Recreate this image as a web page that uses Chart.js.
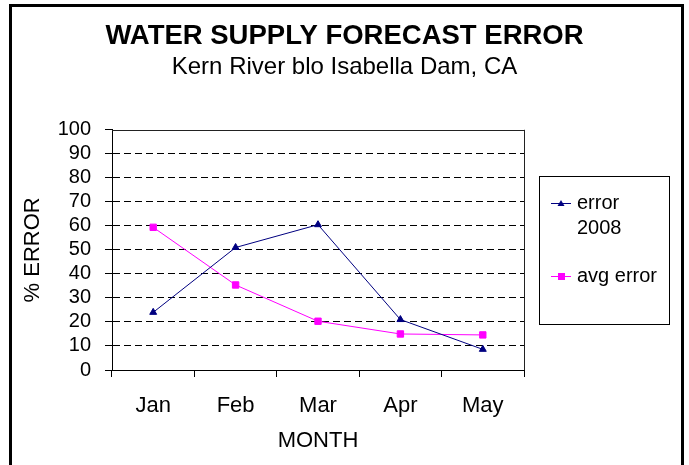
<!DOCTYPE html>
<html>
<head>
<meta charset="utf-8">
<script src="https://cdn.jsdelivr.net/npm/chart.js@4.4.1/dist/chart.umd.min.js"></script>
<style>
html,body{margin:0;padding:0;background:#fff;}
#wrap{width:689px;height:465px;position:relative;}
</style>
</head>
<body>
<div id="wrap"><canvas id="c" width="689" height="465"></canvas></div>
<script>
const months = ["Jan", "Feb", "Mar", "Apr", "May"];
const error2008 = [24, 51, 60.5, 21, 8.6];
const avgError = [59.4, 35.4, 20.3, 15, 14.6];
const yTicks = [0, 10, 20, 30, 40, 50, 60, 70, 80, 90, 100];
const seriesNames = ["error 2008", "avg error"];
const titleText = "WATER SUPPLY FORECAST ERROR";
const subtitleText = "Kern River blo Isabella Dam, CA";

const FONT = "'Liberation Sans', Arial, Helvetica, sans-serif";

const frame = {
  id: 'frame',
  beforeDraw(chart) {
    const ctx = chart.ctx;
    ctx.save();
    ctx.fillStyle = '#fff';
    ctx.fillRect(0, 0, chart.width, chart.height);
    ctx.restore();
  },
  afterDraw(chart) {
    const ctx = chart.ctx;
    const a = chart.chartArea;
    ctx.save();
    // plot area frame (top + right)
    ctx.strokeStyle = '#222';
    ctx.lineWidth = 1;
    ctx.beginPath();
    ctx.moveTo(a.left, Math.round(a.top) + 0.5);
    ctx.lineTo(a.right, Math.round(a.top) + 0.5);
    ctx.moveTo(Math.round(a.right) + 0.5, a.top);
    ctx.lineTo(Math.round(a.right) + 0.5, a.bottom);
    ctx.stroke();
    // outer chart border
    ctx.lineWidth = 3;
    ctx.strokeStyle = '#000';
    ctx.strokeRect(10.5, 5.5, 672, 480);
    // legend
    const lx = 539.5, ly = 176.5, lw = 130, lh = 148;
    ctx.lineWidth = 1;
    ctx.strokeRect(lx, ly, lw, lh);
    ctx.font = '20px ' + FONT;
    ctx.textBaseline = 'middle';
    ctx.textAlign = 'left';
    const entryY = [203, 276];
    chart.data.datasets.forEach((ds, i) => {
      const y = entryY[i];
      ctx.strokeStyle = ds.borderColor;
      ctx.lineWidth = 1;
      ctx.beginPath();
      ctx.moveTo(551, y + 0.5);
      ctx.lineTo(571, y + 0.5);
      ctx.stroke();
      ctx.fillStyle = ds.pointBackgroundColor;
      if (ds.pointStyle === 'triangle') {
        ctx.beginPath();
        ctx.moveTo(561, y - 3);
        ctx.lineTo(564.5, y + 3);
        ctx.lineTo(557.5, y + 3);
        ctx.closePath();
        ctx.fill();
      } else {
        ctx.fillRect(558, y - 3, 7, 7);
      }
      ctx.fillStyle = '#000';
      const words = ds.label.split(' ');
      const lines = [];
      let cur = '';
      words.forEach(w => {
        const t = cur ? cur + ' ' + w : w;
        if (ctx.measureText(t).width > 86 && cur) { lines.push(cur); cur = w; } else cur = t;
      });
      lines.push(cur);
      lines.forEach((ln, k) => ctx.fillText(ln, 577, y + k * 25));
    });
    ctx.restore();
  }
};

new Chart(document.getElementById('c'), {
  type: 'line',
  data: {
    labels: months,
    datasets: [
      {
        label: seriesNames[0],
        data: error2008,
        borderColor: '#000080',
        backgroundColor: '#000080',
        pointBackgroundColor: '#000080',
        pointBorderColor: '#000080',
        pointStyle: 'triangle',
        pointRadius: 4,
        borderWidth: 1,
        tension: 0
      },
      {
        label: seriesNames[1],
        data: avgError,
        borderColor: '#FF00FF',
        backgroundColor: '#FF00FF',
        pointBackgroundColor: '#FF00FF',
        pointBorderColor: '#FF00FF',
        pointStyle: 'rect',
        pointRadius: 4.5,
        borderWidth: 1,
        tension: 0
      }
    ]
  },
  options: {
    responsive: false,
    animation: false,
    devicePixelRatio: 1,
    layout: { padding: { left: 0, right: 0, top: 0, bottom: 0 } },
    plugins: {
      legend: { display: false },
      tooltip: { enabled: false },
      title: {
        display: true,
        text: titleText,
        color: '#000',
        font: { family: FONT, size: 27.5, weight: 'bold' },
        padding: { top: 20, bottom: 0 }
      },
      subtitle: {
        display: true,
        text: subtitleText,
        color: '#000',
        font: { family: FONT, size: 24, weight: 'normal' },
        padding: { top: 0, bottom: 48 }
      }
    },
    scales: {
      x: {
        type: 'category',
        offset: true,
        afterFit(s) { s.height = 95; },
        grid: {
          display: true,
          offset: true,
          drawOnChartArea: false,
          drawTicks: true,
          tickLength: 7,
          tickColor: '#000',
          color: '#000'
        },
        border: { display: true, color: '#000', width: 1 },
        ticks: {
          color: '#000',
          font: { family: FONT, size: 22 },
          padding: 16,
          maxRotation: 0
        },
        title: {
          display: true,
          text: 'MONTH',
          color: '#000',
          font: { family: FONT, size: 22 },
          padding: { top: 0, bottom: 11 }
        }
      },
      y: {
        min: 0,
        max: 100,
        afterFit(s) { s.width = 112; },
        afterBuildTicks(s) { s.ticks = yTicks.map(v => ({ value: v })); },
        grid: {
          display: true,
          drawOnChartArea: true,
          drawTicks: true,
          tickLength: 7,
          tickColor: '#000',
          tickBorderDash: [],
          color: (c) => (c.tick && (c.tick.value === 0 || c.tick.value === 100)) ? 'rgba(0,0,0,0)' : '#000'
        },
        border: { display: true, color: '#000', width: 1, dash: [7, 4] },
        ticks: {
          color: '#000',
          font: { family: FONT, size: 20 },
          padding: 14,
          autoSkip: false,
          stepSize: 10
        },
        title: {
          display: true,
          text: '% ERROR',
          color: '#000',
          font: { family: FONT, size: 22 },
          padding: { top: 20, bottom: 0 }
        }
      },
      yRight: {
        type: 'linear',
        position: 'right',
        display: true,
        min: 0,
        max: 100,
        afterFit(s) { s.width = 165; },
        grid: { display: false, drawOnChartArea: false, drawTicks: false },
        border: { display: false },
        ticks: { display: false },
        title: { display: false }
      }
    }
  },
  plugins: [frame]
});
</script>
</body>
</html>
